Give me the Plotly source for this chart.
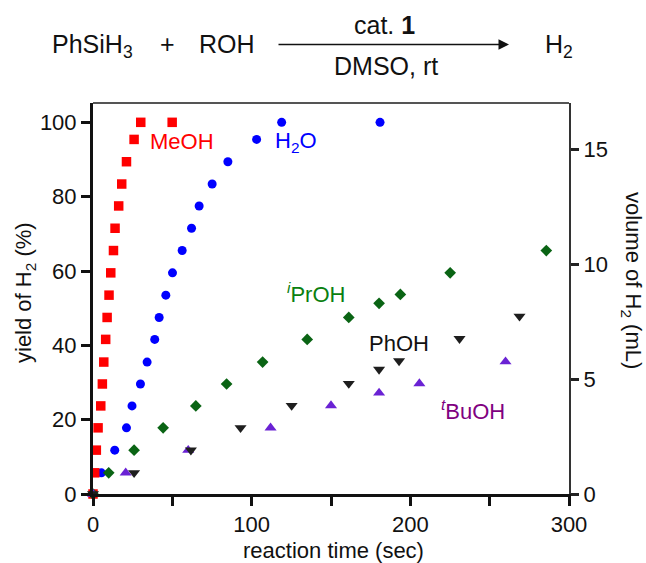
import plotly.graph_objects as go

# ---------------- data ----------------
meoh_t = [0, 1.1, 2.1, 3.2, 4.9, 5.9, 6.8, 8.0, 8.9, 10.1, 11.2, 12.9, 13.9, 16.2, 18.1, 21.1, 25.9, 30.1, 49.9]
meoh_y = [0, 5.7, 11.8, 17.8, 23.7, 29.6, 35.5, 41.6, 47.5, 53.5, 59.5, 65.5, 71.5, 77.5, 83.4, 89.4, 95.4, 100, 100]

h2o_t = [0, 5.3, 13.7, 21.1, 24.6, 29.9, 34.1, 38.9, 41.7, 45.9, 50.1, 56.2, 62.1, 66.9, 75.1, 85.0, 103.1, 118.9, 180.9]
h2o_y = [0, 5.7, 11.8, 17.8, 23.7, 29.6, 35.5, 41.6, 47.5, 53.5, 59.5, 65.5, 71.5, 77.5, 83.4, 89.4, 95.4, 100, 100]

iproh_t = [0, 9.9, 25.9, 44.2, 64.8, 84.2, 106.9, 135.0, 161.2, 180.3, 193.7, 225.1, 285.7]
iproh_y = [0, 5.7, 11.8, 17.8, 23.7, 29.6, 35.5, 41.6, 47.5, 51.3, 53.7, 59.5, 65.5]

phoh_t = [0, 25.9, 61.7, 93.0, 125.2, 161.2, 180.3, 192.9, 231.0, 268.8]
phoh_y = [0, 5.7, 11.8, 17.8, 23.8, 29.7, 33.5, 35.8, 41.8, 47.8]

tbuoh_t = [0, 20.6, 60.0, 111.9, 150.0, 180.3, 205.7, 260.0]
tbuoh_y = [0, 5.7, 11.8, 17.8, 23.8, 27.2, 29.7, 35.6]

x_ticks = [0, 100, 200, 300]
y_ticks = [0, 20, 40, 60, 80, 100]
y2_ticks = [0, 5, 10, 15]

# ---------------- figure ----------------
FONT = "Liberation Sans, Arial, Helvetica, sans-serif"
W, H = 646, 563
L, R, T, B = 93, 77, 103, 69
pw, ph = W - L - R, H - T - B


def px2paper(px, py):
    return (px - L) / pw, (H - B - py) / ph


fig = go.Figure()

def add(t, y, sym, size, color, name):
    fig.add_trace(go.Scatter(x=t, y=y, mode="markers", name=name,
                             marker=dict(symbol=sym, size=size, color=color, line=dict(width=0)),
                             cliponaxis=False, showlegend=False))

add(h2o_t, h2o_y, "circle", 9, "#0000ff", "H2O")
add(meoh_t, meoh_y, "square", 9.5, "#ff0000", "MeOH")
add(iproh_t, iproh_y, "diamond", 9, "#0a6414", "iPrOH")
add(tbuoh_t, tbuoh_y, "triangle-up", 10.5, "#6a22d4", "tBuOH")
add(phoh_t, phoh_y, "triangle-down", 10.5, "#1e1e1e", "PhOH")

# invisible trace to activate right axis
fig.add_trace(go.Scatter(x=[0], y=[0], yaxis="y2", mode="markers",
                         marker=dict(opacity=0), showlegend=False, hoverinfo="skip"))

fig.update_layout(
    width=W, height=H,
    margin=dict(l=L, r=R, t=T, b=B),
    paper_bgcolor="white", plot_bgcolor="white",
    font=dict(family=FONT, size=22, color="#111"),
    xaxis=dict(range=[0, 300], tickvals=x_ticks, ticks="outside", ticklen=9, tickwidth=3,
               tickcolor="#111", showline=True, linewidth=3, linecolor="#111",
               showgrid=False, zeroline=False,
               minor=dict(tickvals=[50, 150, 250], ticks="outside", ticklen=9, tickwidth=3,
                          tickcolor="#111", showgrid=False),
               tickfont=dict(size=22)),
    yaxis=dict(range=[0, 105.2], tickvals=y_ticks, ticks="outside", ticklen=9, tickwidth=3,
               tickcolor="#111", showline=True, linewidth=3, linecolor="#111",
               showgrid=False, zeroline=False, tickfont=dict(size=22)),
    yaxis2=dict(range=[0, 17.03], tickvals=y2_ticks, overlaying="y", side="right",
                ticks="outside", ticklen=8, tickwidth=3, tickcolor="#222",
                showline=True, linewidth=2, linecolor="#333",
                showgrid=False, zeroline=False, tickfont=dict(size=22)),
)

# top frame line
fig.add_shape(type="line", xref="paper", yref="paper", x0=0, x1=1, y0=1, y1=1,
              line=dict(color="#555", width=2))

ann = []
# axis titles
ax_, ay_ = px2paper(25, 293)
ann.append(dict(text="yield of H<sub>2</sub> (%)", x=ax_, y=ay_, textangle=-90))
ax_, ay_ = px2paper(632, 280)
ann.append(dict(text="volume of H<sub>2</sub> (mL)", x=ax_, y=ay_, textangle=90))
ax_, ay_ = px2paper(333, 550)
ann.append(dict(text="reaction time (sec)", x=ax_, y=ay_))

for a in ann:
    fig.add_annotation(xref="paper", yref="paper", showarrow=False, xanchor="center",
                       yanchor="middle", font=dict(size=22, color="#111"), **a)

# series labels (data coordinates)
labels = [
    ("MeOH", 56.0, 94.8, "#ff0000"),
    ("H<sub>2</sub>O", 128.1, 94.8, "#0000ff"),
    ("<sup><i>i</i></sup>PrOH", 140.7, 54.1, "#0a8010"),
    ("PhOH", 192.9, 40.6, "#111111"),
    ("<sup><i>t</i></sup>BuOH", 239.4, 22.6, "#800080"),
]
for txt, x, y, c in labels:
    fig.add_annotation(x=x, y=y, xref="x", yref="y", text=txt, showarrow=False,
                       font=dict(size=22, color=c), xanchor="center", yanchor="middle")

# reaction scheme
SF = 25
scheme = [
    ("PhSiH<sub>3</sub>", 50, 46, "left"),
    ("+", 167, 44, "center"),
    ("ROH", 227, 44, "center"),
    ("cat. <b>1</b>", 384, 25, "center"),
    ("DMSO, rt", 386, 66, "center"),
    ("H<sub>2</sub>", 543, 46, "left"),
]
for txt, px, py, anc in scheme:
    xx, yy = px2paper(px, py)
    fig.add_annotation(x=xx, y=yy, xref="paper", yref="paper", text=txt, showarrow=False,
                       font=dict(size=SF, color="#111"), xanchor=anc, yanchor="middle")

x_head, y_arrow = px2paper(509, 44.5)
fig.add_annotation(x=x_head, y=y_arrow, xref="paper", yref="paper", text="",
                   showarrow=True, ax=-(509 - 277), ay=0, arrowhead=2, arrowsize=1.4,
                   arrowwidth=1.5, arrowcolor="#111")

fig.write_html("out.html")
